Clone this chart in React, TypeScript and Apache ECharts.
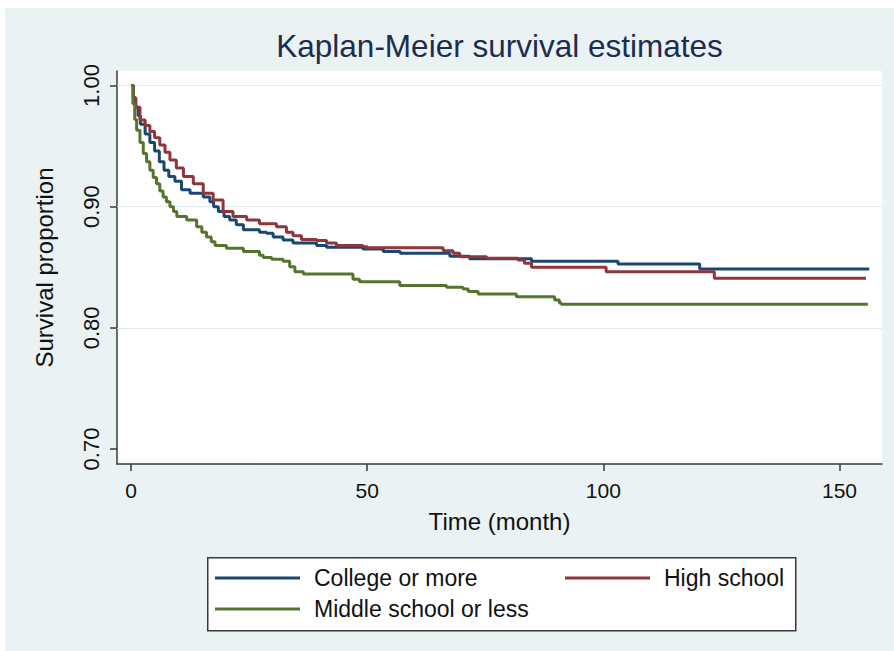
import React, { useEffect, useRef } from "react";
import * as echarts from "echarts";

const seriesNames = ["College or more", "High school", "Middle school or less"];
const seriesColors = ["#1a476f", "#90353b", "#55752f"];

const collegeTimes = [0, 0.5, 1.0, 1.5, 2.0, 3.0, 4.0, 5.0, 6.0, 7.0, 8.0, 9.3, 10.7, 12.5, 15.3, 16.7, 17.5, 18.5, 19.7, 20.9, 22.3, 23.8, 27.2, 28.7, 30.1, 32.2, 34.3, 39.3, 41.4, 49.1, 53.4, 57.0, 67.5, 71.7, 84.8, 103.1, 120.4, 156.3];
const collegeSurv = [1.0, 0.99, 0.982, 0.975, 0.968, 0.96, 0.953, 0.946, 0.937, 0.93, 0.925, 0.921, 0.914, 0.911, 0.908, 0.904, 0.9, 0.896, 0.892, 0.889, 0.885, 0.881, 0.879, 0.878, 0.875, 0.8725, 0.87, 0.868, 0.8665, 0.865, 0.863, 0.8615, 0.859, 0.857, 0.855, 0.8527, 0.8485, 0.8485];

const highTimes = [0, 0.5, 1.0, 1.9, 3.0, 4.0, 5.0, 6.1, 7.2, 8.25, 9.6, 11.1, 13.2, 15.3, 17.4, 19.5, 21.6, 24.5, 27.2, 30.8, 32.9, 34.3, 36.1, 39.3, 41.4, 43.5, 49.1, 50.0, 66.1, 68.2, 69.6, 75.3, 81.9, 83.3, 84.8, 100.6, 123.5, 155.6];
const highSurv = [1.0, 0.99, 0.982, 0.9715, 0.967, 0.962, 0.957, 0.951, 0.945, 0.9385, 0.932, 0.925, 0.919, 0.911, 0.9055, 0.896, 0.892, 0.889, 0.886, 0.8835, 0.879, 0.876, 0.873, 0.872, 0.87, 0.868, 0.867, 0.866, 0.8637, 0.8615, 0.8587, 0.8574, 0.856, 0.8533, 0.85, 0.8463, 0.841, 0.841];

const middleTimes = [0, 0.4, 0.8, 1.2, 1.9, 2.6, 3.3, 4.0, 4.7, 5.4, 6.1, 6.8, 7.5, 8.25, 9.0, 9.7, 11.8, 13.9, 15.0, 16.0, 17.0, 17.8, 20.2, 23.8, 27.2, 28.0, 29.8, 32.2, 33.6, 34.7, 36.5, 47.0, 48.4, 56.9, 66.8, 70.3, 71.4, 73.5, 81.6, 89.7, 90.7, 91.1, 156.0];
const middleSurv = [1.0, 0.985, 0.972, 0.963, 0.953, 0.944, 0.937, 0.93, 0.924, 0.919, 0.913, 0.908, 0.904, 0.9, 0.896, 0.892, 0.889, 0.8835, 0.879, 0.875, 0.871, 0.868, 0.8656, 0.863, 0.86, 0.858, 0.8566, 0.855, 0.8505, 0.8463, 0.8444, 0.84, 0.838, 0.835, 0.8335, 0.832, 0.83, 0.828, 0.8257, 0.823, 0.8205, 0.8195, 0.8195];

const xTicks = [0, 50, 100, 150];
const yTicks = [0.7, 0.8, 0.9, 1.0];
const yGrid = [0.8, 0.9, 1.0];

const FONT = "'Liberation Sans', Arial, Helvetica, sans-serif";

export default function App() {
  const ref = useRef<HTMLDivElement>(null);
  useEffect(() => {
    if (!ref.current) return;
    const chart = echarts.init(ref.current, null, { renderer: "svg" });
    const zip = (t: number[], s: number[]) => t.map((v, i) => [v, s[i]]);
    const data = [zip(collegeTimes, collegeSurv), zip(highTimes, highSurv), zip(middleTimes, middleSurv)];

    const legendText = { fontSize: 23, color: "#111", fontFamily: FONT, padding: [0, 0, 0, 9] };
    const mkLegend = (name: string, left: number, centerY: number) => ({
      data: [{ name, icon: "rect" }],
      left,
      top: centerY - 11.5,
      padding: 0,
      itemWidth: 85,
      itemHeight: 3,
      selectedMode: false,
      z: 5,
      textStyle: legendText,
    });

    chart.setOption({
      animation: false,
      backgroundColor: "#eaf2f3",
      title: {
        text: "Kaplan-Meier survival estimates",
        left: 494.5,
        top: 22,
        padding: 0,
        textAlign: "center",
        textStyle: { fontSize: 31.5, fontWeight: "normal", color: "#1c2d51", fontFamily: FONT },
      },
      grid: {
        left: 112,
        top: 63,
        right: 12,
        bottom: 187,
        show: true,
        backgroundColor: "#ffffff",
        borderWidth: 0,
      },
      xAxis: {
        type: "value",
        min: -2.96,
        max: 159,
        name: "Time (month)",
        nameLocation: "middle",
        nameGap: 45,
        nameTextStyle: { fontSize: 24, color: "#111", fontFamily: FONT },
        axisLine: { show: true, onZero: false, lineStyle: { color: "#3a3a3a", width: 1.5 } },
        axisTick: { show: true, length: 7, customValues: xTicks, lineStyle: { color: "#3a3a3a", width: 1.5 } },
        axisLabel: { customValues: xTicks, margin: 16, fontSize: 21, color: "#111", fontFamily: FONT },
        splitLine: { show: false },
      },
      yAxis: {
        type: "value",
        min: 0.6876,
        max: 1.012,
        name: "Survival proportion",
        nameLocation: "middle",
        nameGap: 61,
        nameTextStyle: { fontSize: 24, color: "#111", fontFamily: FONT },
        axisLine: { show: true, onZero: false, lineStyle: { color: "#3a3a3a", width: 1.5 } },
        axisTick: { show: true, length: 7, customValues: yTicks, lineStyle: { color: "#3a3a3a", width: 1.5 } },
        axisLabel: {
          customValues: yTicks,
          rotate: 90,
          margin: 15,
          fontSize: 22,
          color: "#111",
          fontFamily: FONT,
          formatter: (v: number) => v.toFixed(2),
        },
        splitLine: { show: false },
      },
      legend: [
        mkLegend(seriesNames[0], 210, 570),
        mkLegend(seriesNames[1], 560, 570),
        mkLegend(seriesNames[2], 210, 601),
      ],
      graphic: [
        {
          type: "rect",
          left: 202,
          top: 549,
          z: 1,
          shape: { width: 588, height: 73 },
          style: { fill: "#ffffff", stroke: "#3a3a3a", lineWidth: 1.5 },
        },
      ],
      series: seriesNames.map((name, i) => ({
        name,
        type: "line",
        step: "end",
        data: data[i],
        showSymbol: false,
        symbol: "none",
        color: seriesColors[i],
        itemStyle: { color: seriesColors[i] },
        lineStyle: { color: seriesColors[i], width: 3 },
        z: 3 + i,
        markLine:
          i === 0
            ? {
                silent: true,
                symbol: ["none", "none"],
                label: { show: false },
                lineStyle: { color: "#e2ecef", width: 1.2, type: "solid" },
                z: 1,
                data: yGrid.map((v) => ({ yAxis: v })),
              }
            : undefined,
      })),
    });
    return () => chart.dispose();
  }, []);
  return <div ref={ref} style={{ position: "absolute", left: 5, top: 8, width: 889, height: 643 }} />;
}
